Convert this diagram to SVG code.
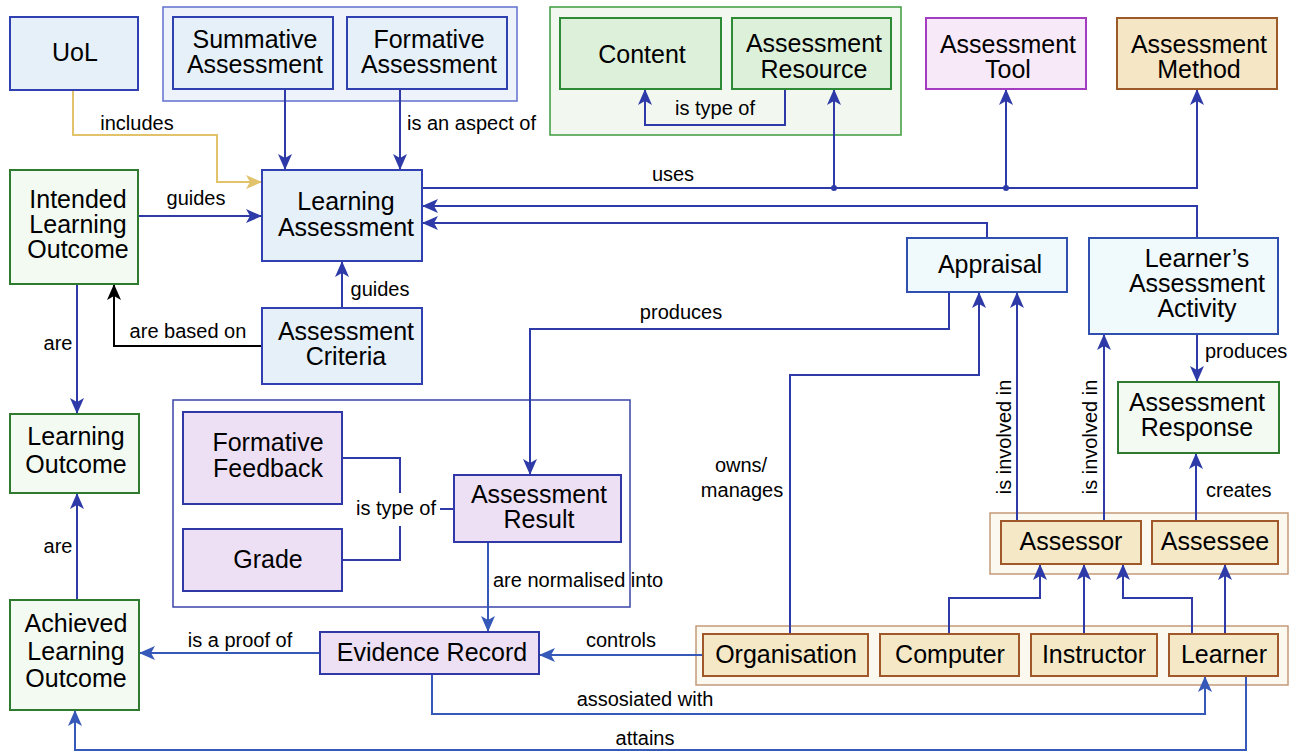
<svg xmlns="http://www.w3.org/2000/svg" width="1300" height="752" viewBox="0 0 1300 752">
<defs>
<style>
text{font-family:"Liberation Sans",Arial,sans-serif;fill:#000}
.n{font-size:25px;text-anchor:middle}
.l{font-size:20px}
.c{fill:none;stroke:#2d3aa8;stroke-width:2}
.c2{fill:none;stroke:#3658b8;stroke-width:2}
.blue{fill:#e6f0f9;stroke:#3040b0;stroke-width:2}
.lblue{fill:#f0f9fc;stroke:#3050b0;stroke-width:2}
.green{fill:#f3faf2;stroke:#2e7a2e;stroke-width:2}
.dgreen{fill:#dcf0da;stroke:#2e8b35;stroke-width:2}
.purp{fill:#ede0f5;stroke:#3038a8;stroke-width:2}
.tan{fill:#f5e8c6;stroke:#a0582a;stroke-width:2}
.tgrp{fill:#faf8ef;stroke:#c49a78;stroke-width:1.5}
</style>
<marker id="a" markerUnits="userSpaceOnUse" markerWidth="16" markerHeight="14" viewBox="0 0 16 14" refX="16" refY="7" orient="auto"><path d="M0,0 L16,7 L0,14 L4,7 Z" fill="#2d3aa8"/></marker>
<marker id="a2" markerUnits="userSpaceOnUse" markerWidth="16" markerHeight="14" viewBox="0 0 16 14" refX="16" refY="7" orient="auto"><path d="M0,0 L16,7 L0,14 L4,7 Z" fill="#3658b8"/></marker>
<marker id="ab" markerUnits="userSpaceOnUse" markerWidth="16" markerHeight="14" viewBox="0 0 16 14" refX="16" refY="7" orient="auto"><path d="M0,0 L16,7 L0,14 L4,7 Z" fill="#000"/></marker>
<marker id="ay" markerUnits="userSpaceOnUse" markerWidth="16" markerHeight="14" viewBox="0 0 16 14" refX="16" refY="7" orient="auto"><path d="M0,0 L16,7 L0,14 L4,7 Z" fill="#e2c26a"/></marker>
</defs>
<rect width="1300" height="752" fill="#fff"/>

<g id="groups">
<rect id="grp-types" x="163" y="7" width="354" height="94" fill="#eef3fb" stroke="#6070cc" stroke-width="1.5"/>
<rect id="grp-content" x="550" y="7" width="351" height="128" fill="#f2f8f0" stroke="#3d9a3d" stroke-width="1.5"/>
<rect id="grp-result" x="173" y="400" width="457" height="207" fill="#fff" stroke="#3a44a8" stroke-width="1.5"/>
<rect id="grp-roles" class="tgrp" x="990" y="513" width="298" height="61"/>
<rect id="grp-actors" class="tgrp" x="696" y="626" width="592" height="59"/>
</g>

<g id="connectors">
<path d="M73,90 V135 H217 V182 H262" fill="none" stroke="#e2c26a" stroke-width="2" marker-end="url(#ay)"/>
<path class="c" d="M285,89 V170" marker-end="url(#a)"/>
<path class="c" d="M400,89 V170" marker-end="url(#a)"/>
<path class="c" d="M785,89 V125 H645 V89" marker-end="url(#a)"/>
<path class="c" d="M422,188 H1197 V89" marker-end="url(#a)"/>
<path class="c" d="M834,188 V89" marker-end="url(#a)"/>
<path class="c" d="M1006,188 V89" marker-end="url(#a)"/>
<circle cx="834" cy="188" r="3" fill="#2d3aa8"/>
<circle cx="1006" cy="188" r="3" fill="#2d3aa8"/>
<path class="c" d="M138,216 H262" marker-end="url(#a)"/>
<path class="c" d="M342,308 V261" marker-end="url(#a)"/>
<path d="M262,346 H114 V284" fill="none" stroke="#000" stroke-width="2" marker-end="url(#ab)"/>
<path class="c" d="M77,284 V414" marker-end="url(#a)"/>
<path class="c" d="M77,600 V493" marker-end="url(#a)"/>
<path class="c" d="M1197,238 V206 H422" marker-end="url(#a)"/>
<path class="c" d="M987,238 V223 H422" marker-end="url(#a)"/>
<path class="c" d="M949,292 V329 H530 V475" marker-end="url(#a)"/>
<path class="c" d="M790,634 V375 H979 V292" marker-end="url(#a)"/>
<path class="c" d="M1017,521 V292" marker-end="url(#a)"/>
<path class="c" d="M1104,521 V334" marker-end="url(#a)"/>
<path class="c" d="M1197,334 V382" marker-end="url(#a)"/>
<path class="c" d="M1196,521 V453" marker-end="url(#a)"/>
<path class="c" d="M949,634 V598 H1040 V564" marker-end="url(#a)"/>
<path class="c" d="M1084,634 V564" marker-end="url(#a)"/>
<path class="c" d="M1192,634 V598 H1123 V564" marker-end="url(#a)"/>
<path class="c" d="M1225,634 V564" marker-end="url(#a)"/>
<path class="c" d="M342,458 H400 V493"/>
<path class="c" d="M342,560 H400 V526"/>
<path class="c" d="M440,509 H454"/>
<path class="c2" d="M488,542 V632" marker-end="url(#a2)"/>
<path class="c2" d="M320,653 H139" marker-end="url(#a2)"/>
<path class="c2" d="M703,655 H539" marker-end="url(#a2)"/>
<path class="c2" d="M432,674 V714 H1205 V676" marker-end="url(#a2)"/>
<path class="c2" d="M1246,676 V750 H75 V710" marker-end="url(#a2)"/>
</g>

<g id="labels" class="l">
<text x="137" y="130" text-anchor="middle">includes</text>
<text x="407" y="130">is an aspect of</text>
<text x="715" y="115" text-anchor="middle">is type of</text>
<text x="673" y="181" text-anchor="middle">uses</text>
<text x="196" y="205" text-anchor="middle">guides</text>
<text x="380" y="296" text-anchor="middle">guides</text>
<text x="188" y="338" text-anchor="middle">are based on</text>
<text x="58" y="350" text-anchor="middle">are</text>
<text x="58" y="553" text-anchor="middle">are</text>
<text x="681" y="319" text-anchor="middle">produces</text>
<text x="741" y="472" text-anchor="middle">owns/</text>
<text x="742" y="497" text-anchor="middle">manages</text>
<text transform="translate(1011,437) rotate(-90)" text-anchor="middle">is involved in</text>
<text transform="translate(1097,437) rotate(-90)" text-anchor="middle">is involved in</text>
<text x="1205" y="358">produces</text>
<text x="1206" y="497">creates</text>
<text x="396" y="515" text-anchor="middle">is type of</text>
<text x="493" y="587">are normalised into</text>
<text x="240" y="647" text-anchor="middle">is a proof of</text>
<text x="621" y="647" text-anchor="middle">controls</text>
<text x="645" y="706" text-anchor="middle">assosiated with</text>
<text x="645" y="745" text-anchor="middle">attains</text>
</g>

<g id="uol"><rect class="blue" x="10" y="17" width="128" height="73"/><text class="n" x="75" y="61">UoL</text></g>
<g id="summative"><rect class="blue" x="173" y="17" width="160" height="72"/><text class="n" x="255" y="48">Summative</text><text class="n" x="255" y="73">Assessment</text></g>
<g id="formative"><rect class="blue" x="347" y="17" width="160" height="72"/><text class="n" x="429" y="48">Formative</text><text class="n" x="429" y="73">Assessment</text></g>
<g id="content"><rect class="dgreen" x="560" y="18" width="161" height="71"/><text class="n" x="642" y="63">Content</text></g>
<g id="resource"><rect class="dgreen" x="732" y="18" width="159" height="71"/><text class="n" x="814" y="52">Assessment</text><text class="n" x="814" y="78">Resource</text></g>
<g id="tool"><rect x="926" y="18" width="160" height="71" fill="#f7e9f8" stroke="#a33cc0" stroke-width="2"/><text class="n" x="1008" y="53">Assessment</text><text class="n" x="1008" y="78">Tool</text></g>
<g id="method"><rect x="1117" y="18" width="160" height="71" fill="#f5e7c6" stroke="#9c5a28" stroke-width="2"/><text class="n" x="1199" y="53">Assessment</text><text class="n" x="1199" y="78">Method</text></g>
<g id="learning-assessment"><rect class="blue" x="262" y="170" width="160" height="91"/><text class="n" x="346" y="210">Learning</text><text class="n" x="346" y="236">Assessment</text></g>
<g id="ilo"><rect class="green" x="10" y="170" width="128" height="114"/><text class="n" x="78" y="208">Intended</text><text class="n" x="78" y="233">Learning</text><text class="n" x="78" y="258">Outcome</text></g>
<g id="criteria"><rect class="blue" x="262" y="308" width="160" height="76"/><text class="n" x="346" y="340">Assessment</text><text class="n" x="346" y="365">Criteria</text></g>
<g id="appraisal"><rect class="lblue" x="907" y="238" width="160" height="54"/><text class="n" x="990" y="273">Appraisal</text></g>
<g id="activity"><rect class="lblue" x="1089" y="238" width="189" height="96"/><text class="n" x="1197" y="267">Learner’s</text><text class="n" x="1197" y="292">Assessment</text><text class="n" x="1197" y="317">Activity</text></g>
<g id="response"><rect class="green" x="1118" y="382" width="161" height="71"/><text class="n" x="1197" y="411">Assessment</text><text class="n" x="1197" y="436">Response</text></g>
<g id="lo"><rect class="green" x="10" y="414" width="129" height="79"/><text class="n" x="76" y="445">Learning</text><text class="n" x="76" y="473">Outcome</text></g>
<g id="feedback"><rect class="purp" x="183" y="412" width="159" height="92"/><text class="n" x="268" y="451">Formative</text><text class="n" x="268" y="477">Feedback</text></g>
<g id="grade"><rect class="purp" x="183" y="529" width="159" height="62"/><text class="n" x="268" y="568">Grade</text></g>
<g id="result"><rect class="purp" x="454" y="475" width="167" height="67"/><text class="n" x="539" y="503">Assessment</text><text class="n" x="539" y="528">Result</text></g>
<g id="evidence"><rect class="purp" x="320" y="632" width="219" height="42"/><text class="n" x="432" y="661">Evidence Record</text></g>
<g id="alo"><rect class="green" x="10" y="600" width="129" height="110"/><text class="n" x="76" y="632">Achieved</text><text class="n" x="76" y="660">Learning</text><text class="n" x="76" y="687">Outcome</text></g>
<g id="assessor"><rect class="tan" x="1001" y="521" width="140" height="43"/><text class="n" x="1071" y="550">Assessor</text></g>
<g id="assessee"><rect class="tan" x="1152" y="521" width="126" height="43"/><text class="n" x="1215" y="550">Assessee</text></g>
<g id="organisation"><rect class="tan" x="703" y="634" width="165" height="42"/><text class="n" x="786" y="663">Organisation</text></g>
<g id="computer"><rect class="tan" x="880" y="634" width="139" height="42"/><text class="n" x="950" y="663">Computer</text></g>
<g id="instructor"><rect class="tan" x="1031" y="634" width="126" height="42"/><text class="n" x="1094" y="663">Instructor</text></g>
<g id="learner"><rect class="tan" x="1169" y="634" width="109" height="42"/><text class="n" x="1224" y="663">Learner</text></g>
</svg>
